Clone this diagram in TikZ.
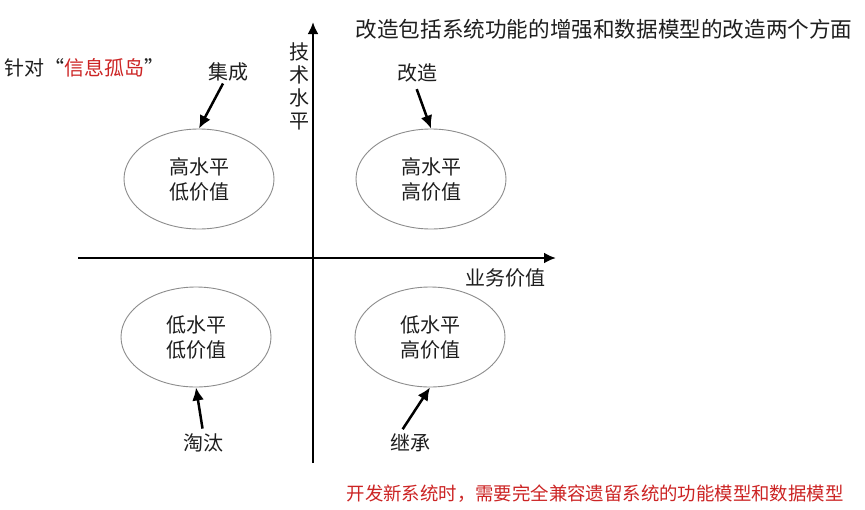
\documentclass[tikz,border=0pt]{standalone}
\usepackage{fontspec}
\setmainfont{Noto Sans CJK SC}
\usepackage{xcolor}
\usetikzlibrary{positioning, shapes.geometric, arrows.meta}
\definecolor{hlred}{RGB}{204,36,36}
\definecolor{txt}{RGB}{30,30,30}

\begin{document}
\begin{tikzpicture}[
        x=1pt, y=-1pt,
        quad/.style={draw=gray!90, ellipse, line width=0.9pt, minimum width=150pt, minimum height=100pt, align=center, inner sep=0pt, text=txt, font=\fontsize{20}{25}\selectfont},
        lbl/.style={inner sep=2pt, text=txt, font=\fontsize{20}{24}\selectfont},
        axis/.style={-{Latex[length=12pt,width=11pt]}, line width=2.8pt},
        arrow/.style={-{Latex[length=13pt,width=12pt]}, line width=2.5pt}
        ]
        \fill[white] (0,0) rectangle (865,509);
        \useasboundingbox (0,0) rectangle (865,509);

        % axes
        \coordinate (xstart) at (78,258);
        \coordinate (xend) at (556,258);
        \coordinate (ystart) at (313,463);
        \coordinate (yend) at (313,22);
        \draw[axis] (xstart) -- (xend);
        \draw[axis] (ystart) -- (yend);
        \node[lbl] (xlabel) at (505,278) {业务价值};
        \node[lbl, align=center, font=\fontsize{20}{23}\selectfont] (ylabel) at (299,86) {技\\术\\水\\平};

        % quadrants
        \node[quad] (hilo) at (199,179) {高水平\\低价值};
        \node[quad] (hihi) at (431,179) {高水平\\高价值};
        \node[quad] (lolo) at (196,337) {低水平\\低价值};
        \node[quad] (lohi) at (430,337) {低水平\\高价值};

        % strategies
        \node[lbl] (integrate) at (228,72) {集成};
        \node[lbl] (reform) at (417,73) {改造};
        \node[lbl] (retire) at (203,443) {淘汰};
        \node[lbl] (inherit) at (410,443) {继承};

        \draw[arrow] ([xshift=-5pt]integrate.south) -- (hilo.north);
        \draw[arrow, shorten <=5pt] ([xshift=-2pt]reform.south) -- (hihi.north);
        \draw[arrow, shorten <=3pt] (retire.north) -- (lolo.south);
        \draw[arrow, shorten <=3pt] ([xshift=-9pt]inherit.north) -- (lohi.south);

        % notes
        \node[lbl, anchor=west] (island) at (2,68) {针对“\textcolor{hlred}{信息孤岛}”};
        \node[lbl, font=\fontsize{21.6}{24}\selectfont] (reformnote) at (604,29) {改造包括系统功能的增强和数据模型的改造两个方面};
        \node[lbl, text=hlred, font=\fontsize{18.4}{22}\selectfont] (newnote) at (595,494) {开发新系统时，需要完全兼容遗留系统的功能模型和数据模型};
    \end{tikzpicture}
\end{document}
